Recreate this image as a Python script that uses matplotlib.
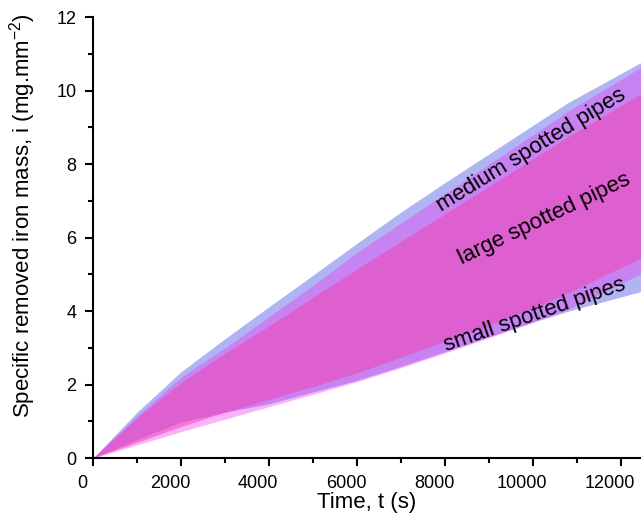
import matplotlib
matplotlib.use("Agg")
import matplotlib.pyplot as plt
from matplotlib.ticker import MultipleLocator
from matplotlib.transforms import ScaledTranslation

plt.rcParams['font.family'] = ['Liberation Sans', 'DejaVu Sans']
plt.rcParams['mathtext.fontset'] = 'custom'
plt.rcParams['mathtext.rm'] = 'Liberation Sans'
plt.rcParams['mathtext.it'] = 'Liberation Sans:italic'

t = [0, 1000, 2000, 3000, 4000, 5000, 6000, 7000, 8000, 9000, 10000, 10800, 12500]

# medium spotted pipes envelope (blue)
med_hi = [0, 1.25, 2.35, 3.25, 4.12, 4.98, 5.85, 6.70, 7.50, 8.28, 9.06, 9.68, 10.80]
med_lo = [0, 0.50, 0.98, 1.25, 1.48, 1.80, 2.12, 2.50, 2.90, 3.30, 3.70, 4.00, 4.55]
# small spotted pipes envelope (light violet-pink)
sml_hi = [0, 1.15, 2.20, 3.00, 3.85, 4.70, 5.60, 6.40, 7.20, 8.00, 8.80, 9.45, 10.67]
sml_lo = [0, 0.36, 0.72, 1.06, 1.40, 1.74, 2.08, 2.46, 2.86, 3.28, 3.70, 4.05, 5.05]
# large spotted pipes envelope (hot pink)
lrg_hi = [0, 1.10, 2.05, 2.85, 3.60, 4.38, 5.15, 5.90, 6.65, 7.40, 8.15, 8.75, 9.95]
lrg_lo = [0, 0.43, 0.86, 1.25, 1.60, 1.95, 2.32, 2.75, 3.18, 3.62, 4.08, 4.50, 5.48]

fig = plt.figure(figsize=(6.41, 5.20), dpi=100)
ax = fig.add_axes([0.145, 0.119, 0.855, 0.848])

ax.fill_between(t, med_lo, med_hi, color=(0.53, 0.55, 0.93), alpha=0.65, lw=0)
ax.fill_between(t, sml_lo, sml_hi, color=(0.94, 0.16, 0.94), alpha=0.35, lw=0)
ax.fill_between(t, lrg_lo, lrg_hi, color=(0.97, 0.24, 0.69), alpha=0.5, lw=0)

ax.set_xlim(0, 12450)
ax.set_ylim(0, 12)
ax.xaxis.set_major_locator(MultipleLocator(2000))
ax.xaxis.set_minor_locator(MultipleLocator(1000))
ax.yaxis.set_major_locator(MultipleLocator(2))
ax.yaxis.set_minor_locator(MultipleLocator(1))
for s in ['top', 'right']:
    ax.spines[s].set_visible(False)
for s in ['left', 'bottom']:
    ax.spines[s].set_linewidth(1.5)
ax.tick_params(which='major', direction='out', length=6, width=1.5, labelsize=13, pad=6)
ax.tick_params(which='minor', direction='out', length=3.5, width=1.5)

shift = ScaledTranslation(-11 / 100, 0, fig.dpi_scale_trans)
for lab in ax.get_xticklabels():
    lab.set_transform(lab.get_transform() + shift)

ax.set_xlabel('Time, t (s)', fontsize=16, labelpad=0)
ax.set_ylabel('Specific removed iron mass, i (mg.mm$^{-2}$)', fontsize=16)
ax.yaxis.set_label_coords(-0.100, 0.551)

ax.text(9966, 8.37, 'medium spotted pipes', rotation=31.5, fontsize=16,
        ha='center', va='center', rotation_mode='anchor')
ax.text(10261, 6.52, 'large spotted pipes', rotation=25.5, fontsize=16,
        ha='center', va='center', rotation_mode='anchor')
ax.text(10034, 3.89, 'small spotted pipes', rotation=19, fontsize=16,
        ha='center', va='center', rotation_mode='anchor')

fig.savefig('out.png', dpi=100)
